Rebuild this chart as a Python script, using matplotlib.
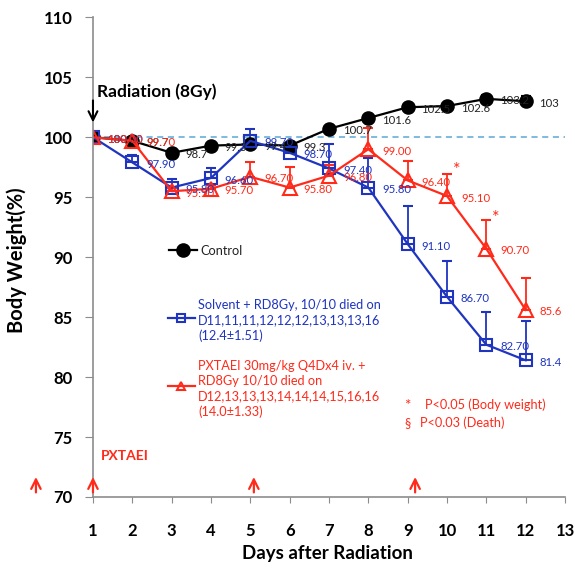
import numpy as np
import matplotlib.pyplot as plt
from matplotlib.lines import Line2D

plt.rcParams['font.family'] = ['Lato', 'DejaVu Sans']

# days after radiation
days = [1, 2, 3, 4, 5, 6, 7, 8, 9, 10, 11, 12]

# control group
control = [100, 99.7, 98.7, 99.3, 99.4, 99.3, 100.7, 101.6, 102.5, 102.6, 103.2, 103.0]
control_err = [0, 0, 0, 0, 0, 0, 0, 0, 0.3, 0.2, 0.3, 0.4]
control_lbl = ['100.0', '99.7', '98.7', '99.3', '99.4', '99.3', '100.7', '101.6',
               '102.5', '102.6', '103.2', '103']

# solvent + RD8Gy
solvent = [100, 97.9, 95.8, 96.6, 99.7, 98.7, 97.4, 95.8, 91.1, 86.7, 82.7, 81.4]
solvent_err = [0, 0.6, 0.7, 0.8, 1.0, 0.3, 2.0, 2.5, 3.2, 3.0, 2.7, 3.3]
solvent_lbl = ['100.00', '97.90', '95.80', '96.60', '99.70', '98.70', '97.40', '95.80',
               '91.10', '86.70', '82.70', '81.4']

# PXTAEI + RD8Gy
pxtaei = [100, 99.7, 95.5, 95.7, 96.7, 95.8, 96.8, 99.0, 96.4, 95.1, 90.7, 85.6]
pxtaei_err = [0, 0.3, 0.3, 0.3, 1.2, 1.7, 0.9, 1.8, 1.6, 1.85, 2.4, 2.7]
pxtaei_lbl = ['100.00', '99.70', '95.50', '95.70', '96.70', '95.80', '96.80', '99.00',
              '96.40', '95.10', '90.70', '85.6']

# dosing days (red arrows) and significance marks
dose_days = [-0.45, 1, 5.09, 9.19]
star_days = [10.25, 11.25]
star_y = [97.3, 93.3]

BLUE = '#1f35bf'
RED = '#ff2a1a'
GREY = '#8c8c8c'

fig = plt.figure(figsize=(5.75, 5.71), dpi=100)
ax = fig.add_axes([0.1617, 0.1296, 0.8209, 0.8401])


def draw_series(y, err, labels, color, txtcolor, marker, ms, face):
    zeros = np.zeros(len(err))
    ax.errorbar(days, y, yerr=[zeros, err], color=color, lw=1.6, marker=marker,
                ms=ms, mfc=face, mec=color, mew=1.5, capsize=3.5, elinewidth=1.3,
                capthick=1.3)
    for d, v, s in zip(days, y, labels):
        ax.annotate(s, (d, v), xytext=(10, -1.5), textcoords='offset points',
                    ha='left', va='center', fontsize=8.2, color=txtcolor)


ax.axhline(100, color='#5aa8d6', lw=1.1, ls=(0, (4, 3)))

draw_series(control, control_err, control_lbl, 'black', '#222222', 'o', 9, 'black')
draw_series(solvent, solvent_err, solvent_lbl, BLUE, BLUE, 's', 9, 'none')
draw_series(pxtaei, pxtaei_err, pxtaei_lbl, RED, RED, '^', 9.5, 'none')

ax.set_xlim(1, 13)
ax.set_ylim(70, 110)
ax.set_xticks(range(1, 14))
ax.set_yticks(range(70, 111, 5))
for s in ['top', 'right']:
    ax.spines[s].set_visible(False)
for s in ['left', 'bottom']:
    ax.spines[s].set_color(GREY)
    ax.spines[s].set_linewidth(1.2)
ax.tick_params(axis='y', direction='out', length=5.5, color=GREY, pad=9,
               labelsize=12)
ax.tick_params(axis='x', direction='out', length=4, color=GREY, pad=15,
               labelsize=12)
for t in ax.get_xticklabels() + ax.get_yticklabels():
    t.set_fontweight('bold')

ax.set_ylabel('Body Weight(%)', fontsize=14.5, fontweight='bold')
ax.yaxis.set_label_coords(-0.14, 0.494)
ax.set_xlabel('Days after Radiation', fontsize=13.5, fontweight='bold')
ax.xaxis.set_label_coords(0.497, -0.1)

# radiation arrow
ax.annotate('', xy=(1, 101.0), xytext=(1, 103.3),
            arrowprops=dict(arrowstyle='->', color='black', lw=1.5,
                            mutation_scale=16))
ax.text(1.1, 103.83, 'Radiation (8Gy)', fontsize=12.5, fontweight='bold',
        va='center', ha='left')

# dosing arrows
for d in dose_days:
    ax.annotate('', xy=(d, 71.9), xytext=(d, 70.15), annotation_clip=False,
                arrowprops=dict(arrowstyle='->', color=RED, lw=1.6,
                                mutation_scale=17))
ax.text(1.2, 73.4, 'PXTAEI', color=RED, fontsize=10, fontweight='bold',
        va='center', ha='left')

for d, v in zip(star_days, star_y):
    ax.text(d, v, '*', color=RED, fontsize=13, ha='center', va='center')

# legend entries
def legend_key(x0, x1, y, color, marker, ms, face, label, tcolor):
    ax.add_line(Line2D([x0, x1], [y, y], color=color, lw=1.6))
    ax.plot([(x0 + x1) / 2], [y], marker=marker, ms=ms, mfc=face, mec=color,
            mew=1.5, color=color)
    ax.text(x1 + 0.08, y, label, color=tcolor, fontsize=9.2, ha='left',
            va='center_baseline', linespacing=1.3)


legend_key(2.93, 3.64, 90.58, 'black', 'o', 9, 'black', 'Control', '#222222')
legend_key(2.91, 3.59, 84.92, BLUE, 's', 6, 'none',
           'Solvent + RD8Gy, 10/10 died on\nD11,11,11,12,12,12,13,13,13,16\n(12.4\u00b11.51)',
           BLUE)
legend_key(2.91, 3.59, 79.25, RED, '^', 6, 'none',
           'PXTAEI 30mg/kg Q4Dx4 iv. +\nRD8Gy 10/10 died on\nD12,13,13,13,14,14,14,15,16,16\n(14.0\u00b11.33)',
           RED)

ax.text(8.99, 77.6, '*', color=RED, fontsize=11, ha='center', va='center')
ax.text(9.44, 77.67, 'P<0.05 (Body weight)', color=RED, fontsize=9.2,
        ha='left', va='center')
ax.text(8.99, 76.17, '\u00a7', color=RED, fontsize=9.2, ha='center', va='center')
ax.text(9.31, 76.17, 'P<0.03 (Death)', color=RED, fontsize=9.2,
        ha='left', va='center')

plt.savefig('out.png', dpi=100)
